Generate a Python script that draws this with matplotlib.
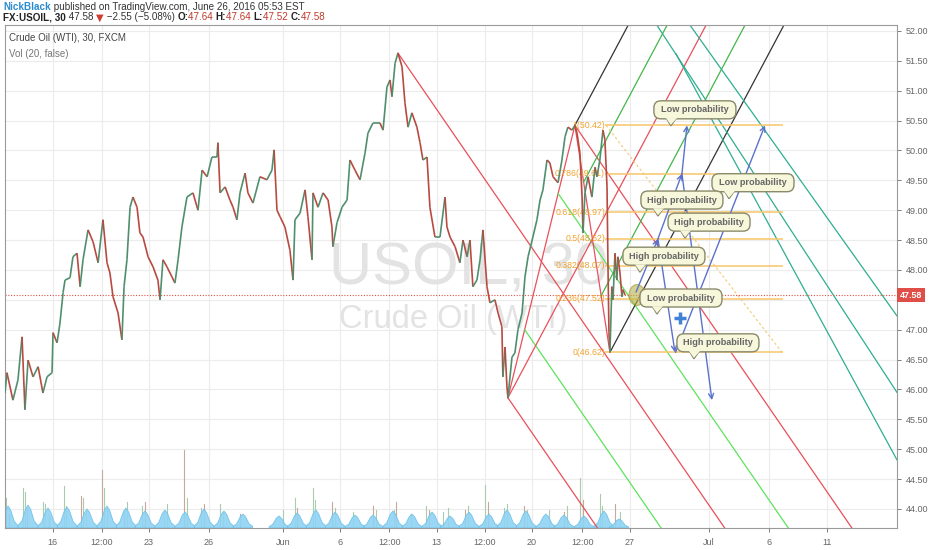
import numpy as np
import matplotlib.pyplot as plt
import matplotlib.transforms as mtransforms
from matplotlib.collections import LineCollection
from matplotlib.patches import FancyBboxPatch, Polygon, Ellipse

plt.rcParams['font.family'] = ['Liberation Sans', 'DejaVu Sans']

# ---- price path (x = trading days since May 16, y = price) ----
px_day = [-2.46, -2.36, -2.05, -1.79, -1.58, -1.43, -1.27, -1.01, -0.75, -0.50, -0.29, -0.03,
          0.02, 0.23, 0.38, 0.54, 0.64, 0.90, 1.05, 1.26, 1.42, 1.57, 1.83, 2.09, 2.35, 2.60,
          2.81, 2.96, 3.12, 3.38, 3.58, 3.69, 3.84, 4.00, 4.15, 4.36, 4.51, 4.67, 4.93, 5.19,
          5.44, 5.55, 5.70, 5.91, 6.17, 6.32, 6.48, 6.68, 6.94, 7.25, 7.51, 7.72, 7.98, 8.23,
          8.49, 8.54, 8.65, 8.91, 9.16, 9.32, 9.52, 9.68, 9.94, 10.09, 10.35, 10.71, 11.07,
          11.33, 11.44, 11.59, 11.75, 12.00, 12.26, 12.42, 12.52, 12.78, 13.04, 13.19, 13.40,
          13.45, 13.71, 13.97, 14.23, 14.43, 14.48, 14.69, 14.95, 15.21, 15.36, 15.62, 15.88,
          16.14, 16.29, 16.55, 16.91, 17.07, 17.27, 17.43, 17.53, 17.69, 17.84, 18.05, 18.20,
          18.36, 18.56, 18.82, 18.98, 19.13, 19.34, 19.49, 19.75, 20.01, 20.27, 20.37, 20.53,
          20.79, 21.04, 21.20, 21.41, 21.56, 21.71, 21.92, 22.08, 22.23, 22.44, 22.59, 22.85,
          23.01, 23.21, 23.26, 23.37, 23.47, 23.52, 23.73, 23.88, 24.04, 24.25, 24.40, 24.56,
          24.81, 25.02, 25.18, 25.33, 25.54, 25.69, 25.85, 26.11, 26.31, 26.47, 26.62, 26.83,
          26.98, 27.09, 27.24, 27.35, 27.40, 27.50, 27.66, 27.86, 28.02, 28.12, 28.27, 28.43,
          28.53, 28.64, 28.69, 28.74, 28.79, 28.89, 28.95, 29.05, 29.15, 29.20, 29.31, 29.41,
          29.46, 29.57]
px_price = [45.94, 46.28, 45.82, 46.16, 46.88, 45.66, 46.49, 46.21, 46.38, 45.94, 46.21, 46.28,
            46.95, 46.78, 47.11, 47.62, 47.83, 47.87, 48.22, 48.28, 47.72, 48.17, 48.67, 48.47,
            48.12, 48.84, 48.12, 47.95, 47.55, 47.28, 46.83, 47.72, 48.17, 49.05, 49.22, 49.05,
            48.62, 48.55, 48.22, 48.05, 47.83, 47.50, 48.17, 48.05, 47.88, 47.78, 48.17, 48.72,
            49.22, 49.29, 49.00, 49.67, 49.56, 49.89, 49.89, 50.13, 49.29, 49.39, 49.17, 49.05,
            48.84, 49.29, 49.62, 49.29, 49.12, 49.56, 49.51, 49.67, 50.01, 49.00, 48.89, 48.72,
            48.33, 47.83, 48.84, 48.95, 49.34, 48.89, 48.17, 49.29, 49.05, 49.29, 49.17, 48.72,
            48.39, 48.79, 49.05, 49.17, 49.84, 49.67, 49.51, 49.96, 50.29, 50.46, 50.46, 50.34,
            51.06, 51.18, 50.90, 51.46, 51.63, 51.40, 50.80, 50.39, 50.63, 50.39, 50.13, 49.84,
            49.89, 49.05, 48.55, 48.55, 49.22, 48.72, 48.55, 48.39, 48.12, 48.50, 48.22, 48.50,
            47.72, 47.83, 48.17, 48.67, 47.72, 47.45, 47.50, 47.28, 47.05, 46.21, 46.71, 46.04,
            45.86, 46.54, 46.61, 47.00, 47.28, 47.88, 48.22, 48.55, 48.84, 49.17, 49.34, 49.84,
            49.79, 49.56, 49.46, 49.84, 50.23, 50.39, 50.34, 50.42, 50.29, 49.96, 49.22, 48.62,
            49.29, 49.56, 49.22, 49.72, 49.56, 49.84, 50.34, 50.18, 49.39, 48.05, 46.95, 46.62,
            47.72, 47.50, 48.28, 47.83, 48.22, 47.95, 47.55, 47.67, 47.58]
last_price = 47.58

# ---- volume: daily session humps (20-bar average) and single bars ----
hump_day = [-2.30, -1.27, -0.24, 0.74, 1.78, 2.81, 3.79, 4.77, 5.80, 6.84, 7.82, 8.85, 9.83,
            11.69, 12.63, 13.60, 14.59, 15.62, 16.55, 17.58, 18.56, 19.60, 20.53, 21.51, 22.54,
            23.47, 24.45, 25.48, 26.41, 27.45, 28.48, 29.26]
hump_vol = [22, 23, 20, 21, 19, 22, 20, 17, 18, 16, 19, 17, 14,
            12, 15, 18, 16, 13, 13, 17, 14, 16, 12, 16, 14,
            18, 17, 14, 13, 12, 17, 9]
bar_day = [-2.40, -2.25, -1.55, -1.42, -1.30, -0.50, -0.37, -0.20, 0.59, 0.70, 1.45, 1.58,
           1.70, 2.55, 2.65, 2.80, 3.69, 3.85, 4.60, 4.77, 5.75, 5.90, 6.79, 6.95, 7.64,
           7.80, 8.66, 8.80, 9.70, 11.90, 12.52, 12.65, 13.43, 13.55, 14.42, 14.60, 15.50,
           16.53, 16.70, 17.61, 17.75, 18.50, 19.29, 19.45, 20.19, 20.40, 21.29, 21.45,
           22.33, 22.50, 23.32, 23.48, 24.35, 24.50, 25.66, 26.41, 26.55, 27.24, 27.40,
           28.27, 28.40, 29.07, 29.30]
bar_vol = [30, 14, 40, 36, 20, 26, 24, 12, 42, 22, 32, 30, 15, 58, 40, 20, 18, 26, 22, 26,
           16, 24, 78, 30, 20, 24, 24, 16, 14, 18, 30, 20, 40, 28, 26, 20, 16, 22, 18, 18, 26,
           14, 22, 18, 16, 20, 18, 22, 43, 26, 20, 24, 22, 18, 18, 16, 22, 50, 28, 34, 22, 24,
           16]

# ---- drawing anchors (day, price) ----
A = (17.84, 51.63)   # top
B = (23.52, 45.86)   # low
C = (26.98, 50.42)   # high
D = (28.79, 46.62)   # last low
fib_x = [28.59, 37.68]
fib_lo, fib_hi = 46.62, 50.42
fib_levels = [1, 0.786, 0.618, 0.5, 0.382, 0.236, 0]
teal_start = [(32.20, 51.62), (31.23, 52.09), (32.92, 52.10)]
teal_end = [(43.62, 44.82), (43.62, 45.95), (43.62, 47.23)]

arrows = [((30.14, 47.63), (31.27, 48.52)),
          ((31.27, 48.52), (32.15, 46.62)),
          ((31.27, 48.52), (32.51, 49.61)),
          ((32.51, 49.61), (32.77, 50.42)),
          ((32.51, 49.61), (34.06, 45.82)),
          ((32.18, 46.62), (36.80, 50.42))]

note_text = ['Low probability', 'Low probability', 'High probability', 'High probability',
             'High probability', 'Low probability', 'High probability']
note_day = [33.18, 36.18, 32.51, 33.91, 31.58, 32.46, 34.37]
note_price = [50.68, 49.46, 49.17, 48.80, 48.23, 47.53, 46.78]

tick_day = [0, 2.53, 4.98, 8.08, 11.9, 14.87, 17.4, 19.84, 22.33, 24.75, 27.37, 29.82,
            33.9, 37.0, 40.0]
tick_lab = ['16', '12:00', '23', '26', 'Jun', '6', '12:00', '13', '12:00', '20', '12:00',
            '27', 'Jul', '6', '11']
price_ticks = np.arange(44.0, 52.01, 0.5)

XMIN, XMAX = -2.46, 43.62
YMIN, YMAX = 43.68, 52.10

fig = plt.figure(figsize=(9.32, 5.5), dpi=100)
fig.patch.set_facecolor('white')
ax = fig.add_axes([5 / 932, 22 / 550, 892 / 932, 503 / 550])
ax.set_xlim(XMIN, XMAX)
ax.set_ylim(YMIN, YMAX)

# grid
for t in tick_day:
    ax.axvline(t, color='#ececec', lw=0.8, zorder=0)
for p in price_ticks:
    ax.axhline(p, color='#ececec', lw=0.8, zorder=0)

# watermark
ax.text(21.5, 48.01, 'USOIL, 30', fontsize=43, color='#e3e3e3', ha='center', va='center', zorder=0.5)
ax.text(20.7, 47.17, 'Crude Oil (WTI)', fontsize=23.5, color='#e3e3e3', ha='center', va='center', zorder=0.5)

# volume (bottom overlay)
vtr = mtransforms.blended_transform_factory(ax.transData, ax.transAxes)
VTOP = 503.0
for i, (d, v) in enumerate(zip(bar_day, bar_vol)):
    col = '#c8a89c' if i % 3 == 1 else '#a9cbb0'
    ax.plot([d, d], [0, v / VTOP], color=col, lw=0.8, transform=vtr, zorder=1)
for d, v in zip(hump_day, hump_vol):
    xs = [d - 0.5, d - 0.32, d - 0.14, d, d + 0.14, d + 0.32, d + 0.5]
    ys = [0.12, 0.3, 0.8, 1.0, 0.8, 0.3, 0.12]
    ax.fill([d - 0.5] + xs + [d + 0.5], [0] + [y * v / VTOP for y in ys] + [0],
            fc='#8fd3f3', ec='#6cc0e9', lw=0.6, alpha=0.9, transform=vtr, zorder=1.2)

# down pitchfork (A, B, C)
def ext_line(p0, slope, x1=XMAX):
    return [p0[0], x1], [p0[1], p0[1] + slope * (x1 - p0[0])]

mid_bc = ((B[0] + C[0]) / 2, (B[1] + C[1]) / 2)
s_dn = (mid_bc[1] - A[1]) / (mid_bc[0] - A[0])
for p0 in [A, B, C]:
    xs, ys = ext_line(p0, s_dn)
    ax.plot(xs, ys, color='#e8505b', lw=0.9, zorder=2)
ax.plot([B[0], C[0]], [B[1], C[1]], color='#e8505b', lw=0.9, zorder=2)
for q in [((mid_bc[0] + C[0]) / 2, (mid_bc[1] + C[1]) / 2),
          ((mid_bc[0] + B[0]) / 2, (mid_bc[1] + B[1]) / 2)]:
    xs, ys = ext_line(q, s_dn)
    ax.plot(xs, ys, color='#5de35d', lw=0.9, zorder=2)

# up pitchfork (B, C, D)
mid_cd = ((C[0] + D[0]) / 2, (C[1] + D[1]) / 2)
s_up = (mid_cd[1] - B[1]) / (mid_cd[0] - B[0])
xs, ys = ext_line(B, s_up)
ax.plot(xs, ys, color='#e8505b', lw=0.9, zorder=2)
ax.plot([C[0], D[0]], [C[1], D[1]], color='#e8505b', lw=0.9, zorder=2)
for p0 in [C, D]:
    xs, ys = ext_line(p0, s_up)
    ax.plot(xs, ys, color='#333333', lw=0.9, zorder=2)
for q in [((mid_cd[0] + C[0]) / 2, (mid_cd[1] + C[1]) / 2),
          ((mid_cd[0] + D[0]) / 2, (mid_cd[1] + D[1]) / 2)]:
    xs, ys = ext_line(q, s_up)
    ax.plot(xs, ys, color='#43b649', lw=0.9, zorder=2)

# teal channel lines
for s, e in zip(teal_start, teal_end):
    ax.plot([s[0], e[0]], [s[1], e[1]], color='#2fae8f', lw=0.9, zorder=2)

# fib retracement
ax.plot(fib_x, [fib_hi, fib_lo], color='#f3cf7e', lw=0.9, ls=(0, (2, 2)), zorder=2)
for lv in fib_levels:
    val = fib_lo + lv * (fib_hi - fib_lo)
    ax.plot(fib_x, [val, val], color='#f8c66a', lw=1.4, alpha=0.8, zorder=2)
    ax.text(fib_x[0] - 0.05, val, '%s(%.2f)' % (('%g' % lv), val), color='#f0a22e',
            fontsize=6.3, ha='right', va='center', zorder=3)

# last price line
ax.axhline(last_price, color='#e0524a', lw=0.8, ls=(0, (1, 1.5)), zorder=2)

# price path
pts = np.column_stack([px_day, px_price])
segs = np.stack([pts[:-1], pts[1:]], axis=1)
cols = ['#4f8f6e' if b >= a else '#b84a40' for a, b in zip(px_price[:-1], px_price[1:])]
ax.add_collection(LineCollection(segs, colors=cols, linewidths=1.2, zorder=3))

# ellipse + plus marker
ax.add_patch(Ellipse((30.19, 47.58), 0.83, 0.35, fc='#b8b24a', ec='#9a9434', alpha=0.6, lw=0.8, zorder=4))
ax.plot([32.41], [47.20], marker='+', ms=9, mew=2.5, color='#3f82d6', zorder=5)

# arrows
for s, e in arrows:
    ax.annotate('', xy=e, xytext=s,
                arrowprops=dict(arrowstyle='->', color='#5a72cc', lw=1.0,
                                shrinkA=0, shrinkB=0, mutation_scale=9), zorder=5)

# callouts
for txt, d, p in zip(note_text, note_day, note_price):
    tr = mtransforms.Affine2D() + mtransforms.ScaledTranslation(d, p, ax.transData)
    ax.add_patch(Polygon([(-30, -6), (-17, -6), (-24, -16)], closed=True, fc='#f7f7dc',
                         ec='#8a8a6a', lw=1.0, transform=tr, zorder=6))
    ax.add_patch(FancyBboxPatch((-41, -9), 82, 18, boxstyle='round,pad=0,rounding_size=7',
                                fc='#f7f7dc', ec='#8a8a6a', lw=1.0, transform=tr, zorder=6))
    ax.add_patch(Polygon([(-29, -8.2), (-18, -8.2), (-24, -15)], closed=True, fc='#f7f7dc',
                         ec='none', transform=tr, zorder=6))
    ax.text(d, p, txt, fontsize=6.6, fontweight='bold', color='#666666', ha='center',
            va='center', zorder=7)

# axes styling
ax.set_xticks(tick_day)
ax.set_xticklabels(tick_lab)
ax.set_yticks(price_ticks)
ax.set_yticklabels(['%.2f' % v for v in price_ticks])
ax.yaxis.tick_right()
ax.tick_params(axis='both', labelsize=6.5, colors='#666666', length=3, width=0.6)
ax.tick_params(axis='x', pad=4)
for sp in ax.spines.values():
    sp.set_color('#9a9a9a')
    sp.set_linewidth(0.8)

# last price label on the price scale (covers the tick label underneath)
ax.text(1.0035, last_price, '%.2f' % last_price,
        transform=mtransforms.blended_transform_factory(ax.transAxes, ax.transData),
        fontsize=6.5, fontweight='bold', color='white', ha='left', va='center',
        bbox=dict(boxstyle='square,pad=0.3', fc='#df4e47', ec='none'), zorder=8, clip_on=False)
for lab in ax.get_yticklabels():
    if lab.get_text() == '47.50':
        lab.set_visible(False)

# legend lines in the pane
ax.text(0.004, 0.975, 'Crude Oil (WTI), 30, FXCM', transform=ax.transAxes, fontsize=7,
        color='#444444', ha='left', va='center')
ax.text(0.004, 0.943, 'Vol (20, false)', transform=ax.transAxes, fontsize=7,
        color='#777777', ha='left', va='center')

# header, pieces laid out one after another
renderer = fig.canvas.get_renderer()


def put_row(y, parts, x0=3):
    x = x0
    for s, kw in parts:
        t = fig.text(x / 932, 1 - y / 550, s, va='center', fontsize=7.1, **kw)
        x = t.get_window_extent(renderer).x1


dark = dict(color='#333333')
bold = dict(color='#222222', fontweight='bold')
red = dict(color='#c0392b')
put_row(7, [('NickBlack', dict(color='#2a8bd0', fontweight='bold')),
            (' published on TradingView.com, June 26, 2016 05:53 EST', dark)])
put_row(17.5, [('FX:USOIL, 30', bold), (' 47.58 ', dark),
               ('\u25bc', dict(color='#d23b30', family='DejaVu Sans')),
               (' \u22122.55 (\u22125.08%) ', dark),
               ('O:', bold), ('47.64 ', red), ('H:', bold), ('47.64 ', red),
               ('L:', bold), ('47.52 ', red), ('C:', bold), ('47.58', red)])

fig.savefig('out.png', dpi=100)
